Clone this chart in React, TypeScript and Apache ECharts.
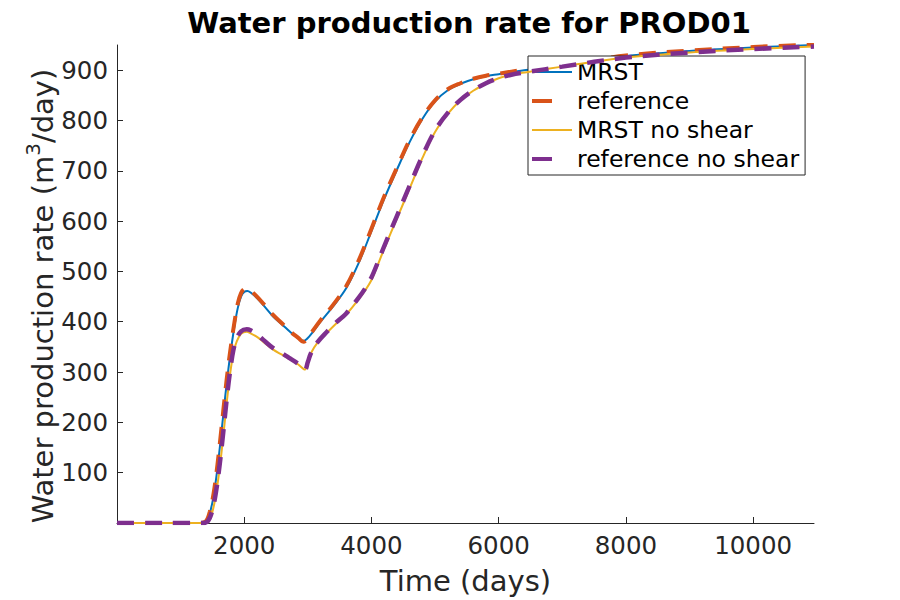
import React, { useEffect, useRef } from "react";
import * as echarts from "echarts";

const titleText = "Water production rate for PROD01";
const xLabel = "Time (days)";
const yLabelMain = "Water production rate (m";
const yLabelSup = "3";
const yLabelEnd = "/day)";
const seriesNames = ["MRST", "reference", "MRST no shear", "reference no shear"];

const xTicks = [2000, 4000, 6000, 8000, 10000];
const yTicks = [100, 200, 300, 400, 500, 600, 700, 800, 900];

const shearDays = [0, 500, 1000, 1300, 1400, 1460, 1520, 1580, 1640, 1700, 1750, 1800, 1850, 1900, 1950, 2000, 2050, 2100, 2200, 2300, 2450, 2600, 2720, 2850, 2930, 3030, 3200, 3400, 3600, 3800, 4000, 4200, 4400, 4600, 4800, 5000, 5200, 5400, 5600, 5800, 6000, 6400, 7000, 8000, 9000, 10000, 10957];
const mrstRate = [0, 0, 0, 0, 3, 20, 55, 110, 178, 250, 305, 352, 394, 428, 450, 459, 461, 458, 447, 433, 411, 394, 380, 367, 362, 372, 400, 431, 466, 517, 580, 644, 702, 757, 803, 838, 860, 873, 882, 888, 892, 900, 910, 928, 938, 945, 950];
const refRate = [0, 0, 0, 0, 4, 23, 60, 117, 186, 258, 313, 360, 402, 437, 457, 465, 466, 462, 450, 436, 414, 396, 381, 368, 360, 374, 403, 434, 470, 522, 585, 649, 706, 761, 806, 840, 862, 874, 883, 889, 893, 901, 911, 929, 939, 946, 951];

const noShearDays = [0, 500, 1000, 1350, 1430, 1490, 1550, 1610, 1670, 1730, 1780, 1830, 1880, 1950, 2040, 2100, 2200, 2300, 2450, 2600, 2720, 2850, 2955, 3000, 3050, 3150, 3300, 3450, 3600, 3800, 3900, 4000, 4100, 4200, 4400, 4600, 4800, 5000, 5200, 5400, 5600, 5800, 6000, 6200, 6440, 7000, 8000, 9000, 10000, 10957];
const mrstNoShearRate = [0, 0, 0, 0, 3, 18, 52, 105, 172, 245, 298, 338, 360, 376, 380, 377, 370, 360, 345, 334, 325, 315, 305, 322, 338, 358, 378, 397, 414, 445, 462, 483, 513, 545, 605, 665, 725, 777, 813, 840, 859, 873, 884, 891, 896, 907, 925, 935, 942, 947];
const refNoShearRate = [0, 0, 0, 0, 4, 21, 57, 112, 180, 252, 304, 344, 366, 381, 385, 383, 375, 364, 348, 337, 327, 316, 305, 320, 338, 359, 380, 399, 416, 448, 466, 488, 518, 550, 610, 670, 729, 780, 815, 841, 860, 874, 884, 891, 896, 907, 925, 935, 942, 947];

const colors = ["#0072BD", "#D95319", "#EDB120", "#7E2F8E"];

function pairs(xs: number[], ys: number[]) {
  return xs.map((x, i) => [x, ys[i]]);
}

export default function App() {
  const ref = useRef<HTMLDivElement>(null);
  useEffect(() => {
    if (!ref.current) return;
    const chart = echarts.init(ref.current, undefined, { renderer: "svg" });
    const font = "DejaVu Sans";
    const axisColor = "#262626";
    const dash = [17, 11];
    const datasets = [
      pairs(shearDays, mrstRate),
      pairs(shearDays, refRate),
      pairs(noShearDays, mrstNoShearRate),
      pairs(noShearDays, refNoShearRate),
    ];
    const widths = [2, 4, 2, 4.5];
    const dashed = [false, true, false, true];
    chart.setOption({
      animation: false,
      backgroundColor: "#ffffff",
      title: {
        text: titleText,
        left: 464,
        textAlign: "center",
        top: 3,
        textStyle: { fontFamily: font, fontSize: 29, fontWeight: "bold", color: "#000000" },
      },
      grid: { left: 117, right: 86, top: 45, bottom: 76, containLabel: false },
      legend: {
        orient: "vertical",
        left: 528,
        top: 56,
        padding: [3, 6, 3, 2],
        itemGap: 3,
        itemWidth: 40,
        itemHeight: 14,
        backgroundColor: "#ffffff",
        borderColor: "#262626",
        borderWidth: 1,
        borderRadius: 0,
        itemStyle: { opacity: 0 },
        textStyle: { fontFamily: font, fontSize: 23.5, color: "#000000", lineHeight: 26 },
        data: seriesNames.map((n, i) => ({
          name: n,
          itemStyle: { opacity: 0 },
          lineStyle: dashed[i]
            ? { width: 4, type: [20, 40], color: colors[i] }
            : { width: 2, type: "solid", color: colors[i] },
        })),
      },
      graphic: [
        {
          type: "text",
          x: 40,
          y: 296,
          rotation: Math.PI / 2,
          z: 10,
          style: {
            text: "{m|" + yLabelMain + "}{s|" + yLabelSup + "}{m|" + yLabelEnd + "}",
            align: "center",
            verticalAlign: "middle",
            fill: axisColor,
            rich: {
              m: { fontFamily: font, fontSize: 29, fill: axisColor, color: axisColor, lineHeight: 34, verticalAlign: "bottom" },
              s: { fontFamily: font, fontSize: 20, fill: axisColor, color: axisColor, lineHeight: 34, verticalAlign: "top" },
            },
          },
        },
      ],
      xAxis: {
        type: "value",
        min: 0,
        max: 10957,
        name: xLabel,
        nameLocation: "middle",
        nameGap: 43,
        nameTextStyle: { fontFamily: font, fontSize: 29, color: axisColor },
        axisLine: { show: true, lineStyle: { color: axisColor, width: 1 } },
        axisTick: { show: true, inside: true, length: 6, customValues: xTicks, lineStyle: { color: axisColor } },
        axisLabel: {
          customValues: xTicks,
          margin: 10,
          fontFamily: font,
          fontSize: 24.5,
          color: axisColor,
          formatter: (v: number) => String(v),
        },
        splitLine: { show: false },
      },
      yAxis: {
        type: "value",
        min: 0,
        max: 950,
        axisLine: { show: true, lineStyle: { color: axisColor, width: 1 } },
        axisTick: { show: true, inside: true, length: 6, customValues: yTicks, lineStyle: { color: axisColor } },
        axisLabel: {
          customValues: yTicks,
          margin: 9,
          fontFamily: font,
          fontSize: 24.5,
          color: axisColor,
          formatter: (v: number) => String(v),
        },
        splitLine: { show: false },
      },
      series: seriesNames.map((n, i) => ({
        name: n,
        type: "line",
        data: datasets[i],
        symbol: "none",
        smooth: 0.35,
        color: colors[i],
        z: 2 + i,
        lineStyle: {
          color: colors[i],
          width: widths[i],
          type: dashed[i] ? dash : "solid",
          cap: "butt",
        },
        itemStyle: { color: colors[i] },
      })),
    });
    return () => chart.dispose();
  }, []);
  return (
    <div
      ref={ref}
      style={{ position: "fixed", left: 0, top: 0, width: 900, height: 600, background: "#fff" }}
    />
  );
}
